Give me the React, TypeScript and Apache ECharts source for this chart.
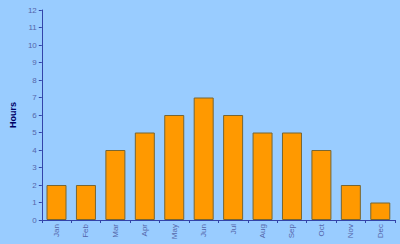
import React, { useEffect, useRef } from "react";
import * as echarts from "echarts";

const months = ["Jan", "Feb", "Mar", "Apr", "May", "Jun", "Jul", "Aug", "Sep", "Oct", "Nov", "Dec"];
const hours = [2, 2, 4, 5, 6, 7, 6, 5, 5, 4, 2, 1];
const yMin = 0;
const yMax = 12;
const yStep = 1;

export default function App() {
  const ref = useRef<HTMLDivElement>(null);
  useEffect(() => {
    if (!ref.current) return;
    const chart = echarts.init(ref.current, null, { renderer: "svg" });
    chart.setOption({
      animation: false,
      backgroundColor: "#99CCFF",
      grid: { left: 32, right: 5, top: 10, bottom: 24, containLabel: false },
      xAxis: {
        type: "category",
        data: months,
        axisLine: { lineStyle: { color: "#3344AA", width: 1 } },
        axisTick: { show: true, length: 3, lineStyle: { color: "#3344AA" } },
        axisLabel: {
          rotate: 90,
          fontSize: 8,
          margin: 4,
          color: "#5566AA",
          fontFamily: "Liberation Sans, Arial, sans-serif",
        },
        splitLine: { show: false },
      },
      yAxis: {
        type: "value",
        min: yMin,
        max: yMax,
        interval: yStep,
        name: "Hours",
        nameLocation: "middle",
        nameRotate: 90,
        nameGap: 20,
        nameTextStyle: {
          color: "#000066",
          fontWeight: "bold",
          fontSize: 9,
          fontFamily: "Liberation Sans, Arial, sans-serif",
        },
        axisLine: { show: true, lineStyle: { color: "#3344AA", width: 1 } },
        axisTick: { show: true, length: 3, lineStyle: { color: "#3344AA" } },
        axisLabel: {
          fontSize: 8,
          margin: 5,
          color: "#5566AA",
          fontFamily: "Liberation Sans, Arial, sans-serif",
        },
        splitLine: { show: false },
      },
      series: [
        {
          type: "bar",
          data: hours,
          barWidth: 20,
          itemStyle: { color: "#FF9900", borderColor: "#776633", borderWidth: 1 },
        },
      ],
    });
    return () => chart.dispose();
  }, []);
  return (
    <div
      ref={ref}
      style={{ position: "fixed", left: 0, top: 0, width: 400, height: 244 }}
    />
  );
}
